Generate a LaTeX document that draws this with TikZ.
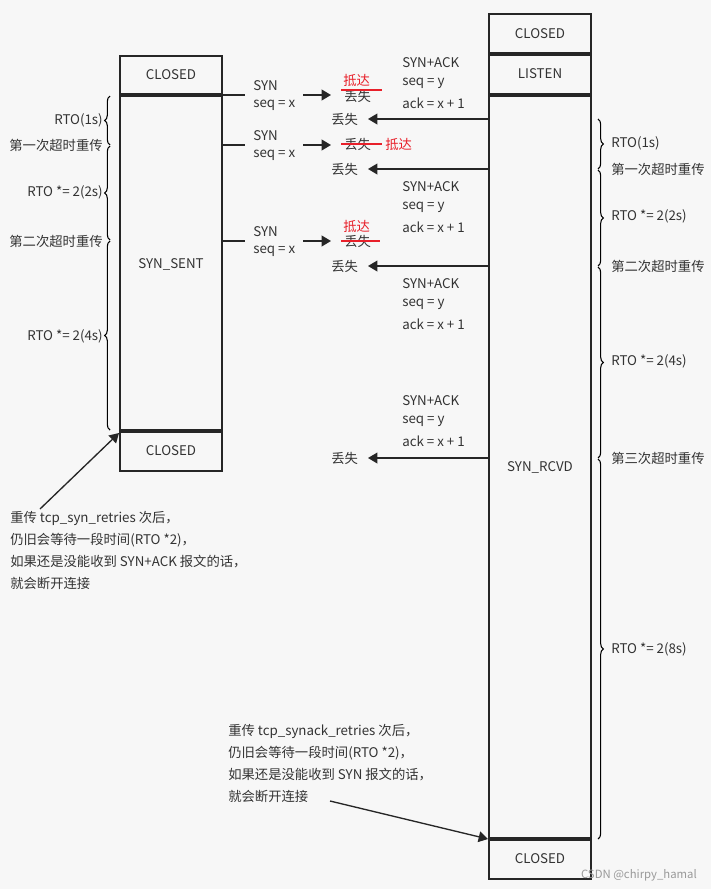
\documentclass[tikz,border=0pt]{standalone}
\usepackage{fontspec}
\setmainfont{Noto Sans CJK SC}
\usetikzlibrary{arrows.meta,decorations.pathreplacing}
\definecolor{tx}{HTML}{333333}
\definecolor{rd}{HTML}{E8202A}
\begin{document}
\begin{tikzpicture}[x=0.75pt,y=-0.75pt,
  lbl/.style={font=\fontsize{10}{12}\selectfont,text=tx,inner sep=0pt,anchor=west},
  rlbl/.style={lbl,anchor=east},
  red/.style={lbl,text=rd},
  box/.style={draw=black!85,line width=1.5pt},
  msg/.style={draw=black!85,line width=1.2pt},
  arr/.style={msg,-{Triangle[length=7pt,width=8pt]}},
  br/.style={decorate,decoration={brace,amplitude=4pt},draw=black,line width=0.8pt},
  strike/.style={draw=rd,line width=1.6pt}]
\fill[white!97!black] (0,0) rectangle (711,889);
\useasboundingbox (0,0) rectangle (711,889);
% left column
\draw[box] (120,56) rectangle (222,471);
\draw[black!85,line width=2.5pt] (120,95) -- (222,95);
\draw[black!85,line width=2.5pt] (120,431) -- (222,431);
\node[lbl,anchor=center] (lc) at (171,75) {CLOSED};
\node[lbl,anchor=center] (ss) at (171,264) {SYN\_SENT};
\node[lbl,anchor=center] (lc2) at (171,451) {CLOSED};
% right column
\draw[box] (489,14) rectangle (591,879);
\draw[black!85,line width=2.5pt] (489,54) -- (591,54);
\draw[black!85,line width=2.5pt] (489,95) -- (591,95);
\draw[black!85,line width=2.5pt] (489,839) -- (591,839);
\node[lbl,anchor=center] (rc) at (540,34) {CLOSED};
\node[lbl,anchor=center] (ls) at (540,74) {LISTEN};
\node[lbl,anchor=center] (sr) at (540,467) {SYN\_RCVD};
\node[lbl,anchor=center] (rc2) at (540,859) {CLOSED};
% SYN sends
\foreach \y/\n in {95/a,145/b,241/c}{
  \draw[msg] (222,\y) -- (245,\y);
  \node[lbl] at (253,\y-9) {SYN};
  \node[lbl] at (253,\y+10) {seq = x};
  \coordinate (s\n) at (303,\y);
  \coordinate (e\n) at (331,\y);
  \draw[arr] (s\n) -- (e\n);
}
\node[lbl] (l1) at (344,96) {丢失};
\node[red] at (343,80) {抵达};
\draw[strike] (341,90) -- (382,90);
\node[lbl] (l2) at (344,144) {丢失};
\node[red] at (385,144) {抵达};
\draw[strike] (341,144) -- (382,144);
\node[lbl] (l3) at (344,241) {丢失};
\node[red] at (343,226) {抵达};
\draw[strike] (341,241) -- (380,241);
% SYN+ACK
\foreach \y in {63,187,284,401}{
  \node[lbl] at (402,\y) {SYN+ACK};
  \node[lbl] at (402,\y+20) {seq = y};
  \node[lbl] at (402,\y+40) {ack = x + 1};
}
\foreach \y/\n in {119/a,169/b,266/c,458/d}{
  \coordinate (r\n) at (489,\y);
  \coordinate (t\n) at (368,\y);
  \draw[arr] (r\n) -- (t\n);
  \node[lbl] at (331,\y) {丢失};
}
% left braces
\draw[br] (110,145) -- (110,96);
\draw[br] (110,240) -- (110,146);
\draw[br] (110,430) -- (110,241);
\node[rlbl] at (103,120) {RTO(1s)};
\node[rlbl] at (103,145) {第一次超时重传};
\node[rlbl] at (103,192) {RTO *= 2(2s)};
\node[rlbl] at (103,241) {第二次超时重传};
\node[rlbl] at (103,336) {RTO *= 2(4s)};
% right braces
\draw[br] (598,119) -- (598,169);
\draw[br] (598,170) -- (598,266);
\draw[br] (598,267) -- (598,458);
\draw[br] (598,459) -- (598,839);
\node[lbl] at (611,143) {RTO(1s)};
\node[lbl] at (611,169) {第一次超时重传};
\node[lbl] at (611,216) {RTO *= 2(2s)};
\node[lbl] at (611,266) {第二次超时重传};
\node[lbl] at (611,361) {RTO *= 2(4s)};
\node[lbl] at (611,458) {第三次超时重传};
\node[lbl] at (611,649) {RTO *= 2(8s)};
% annotations
\node[lbl,anchor=north west,align=left,font=\fontsize{10}{16.5}\selectfont] (n1) at (10,511)
 {重传 tcp\_syn\_retries 次后，\\仍旧会等待一段时间(RTO *2)，\\如果还是没能收到 SYN+ACK 报文的话，\\就会断开连接};
\coordinate (n1a) at (40,509);
\coordinate (n1b) at (119,433);
\draw[arr,line width=1pt] (n1a) -- (n1b);
\node[lbl,anchor=north west,align=left,font=\fontsize{10}{16.5}\selectfont] (n2) at (228,724)
 {重传 tcp\_synack\_retries 次后，\\仍旧会等待一段时间(RTO *2)，\\如果还是没能收到 SYN 报文的话，\\就会断开连接};
\coordinate (n2a) at (330,801);
\coordinate (n2b) at (488,839);
\draw[arr,line width=1pt] (n2a) -- (n2b);
\node[lbl,text=black!40,anchor=east,font=\fontsize{8.5}{10}\selectfont] (wm) at (697,875) {CSDN @chirpy\_hamal};
\end{tikzpicture}
\end{document}
